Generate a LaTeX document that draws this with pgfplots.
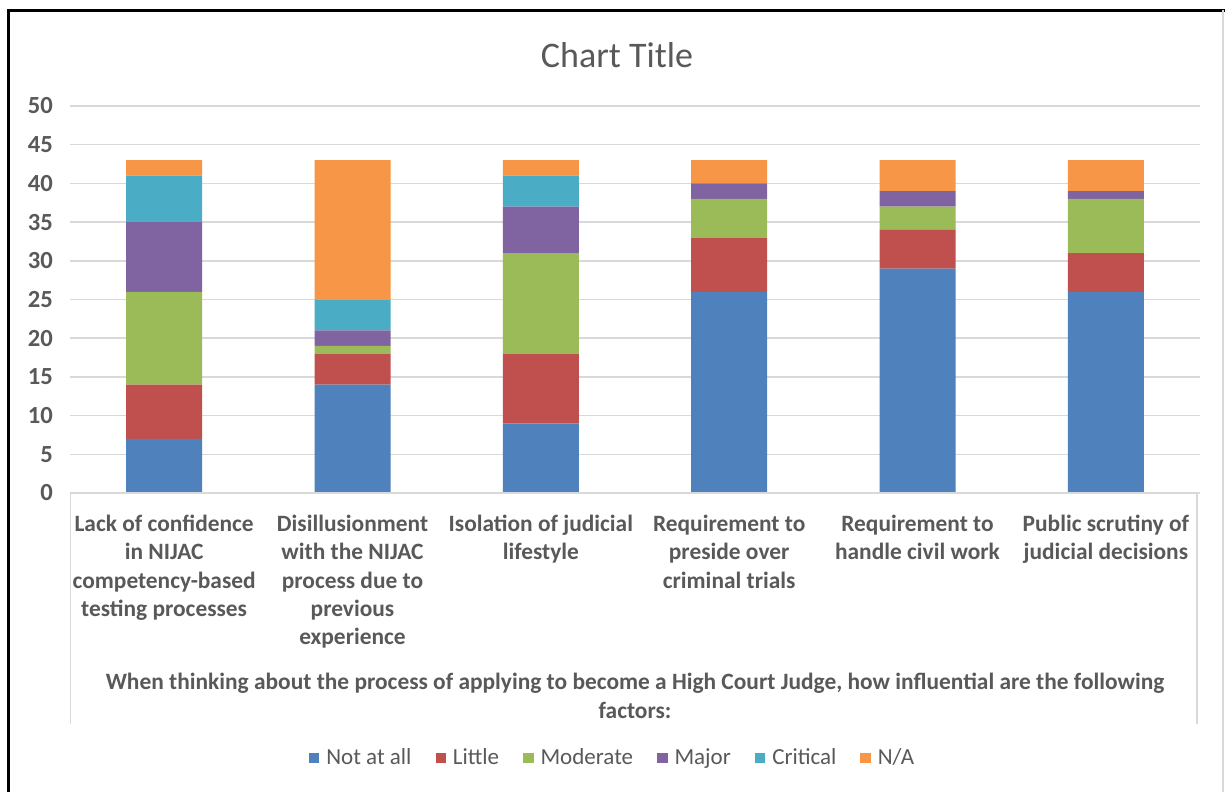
\documentclass[border=0pt]{standalone}
\usepackage{fontspec}
\setmainfont{Carlito}
\usepackage{pgfplots}
\pgfplotsset{compat=1.18}
\definecolor{c1}{HTML}{4F81BD}
\definecolor{c2}{HTML}{C0504D}
\definecolor{c3}{HTML}{9BBB59}
\definecolor{c4}{HTML}{8064A2}
\definecolor{c5}{HTML}{4BACC6}
\definecolor{c6}{HTML}{F79646}
\definecolor{txt}{HTML}{595959}
\definecolor{gridc}{HTML}{D9D9D9}
\begin{document}
\begin{tikzpicture}
\useasboundingbox (0,0) rectangle (612.5pt,-396pt);
\fill[white] (0,0) rectangle (612.5pt,-396pt);
\draw[black, line width=1.5pt] (4pt,-396pt) -- (4pt,-5.25pt) -- (612.5pt,-5.25pt);
\draw[gridc, line width=0.75pt] (611.5pt,-5.25pt) -- (611.5pt,-396pt);
\node[txt, font=\fontsize{18}{22}\selectfont] at (308.5pt,-27.5pt) {Chart Title};
\begin{axis}[
  at={(35pt,-246.5pt)}, anchor=south west,
  width=565pt, height=193.5pt, scale only axis,
  ybar stacked, bar width=38pt,
  xmin=-0.5, xmax=5.5, ymin=0, ymax=50,
  xtick={0,...,5},
  xticklabels={
    {Lack of confidence\\in NIJAC\\competency-based\\testing processes},
    {Disillusionment\\with the NIJAC\\process due to\\previous\\experience},
    {Isolation of judicial\\lifestyle},
    {Requirement to\\preside over\\criminal trials},
    {Requirement to\\handle civil work},
    {Public scrutiny of\\judicial decisions}},
  ytick={0,5,...,50},
  ymajorgrids, grid style={gridc, line width=0.75pt},
  axis line style={draw=none},
  major tick length=0pt,
  tick label style={txt, font=\fontsize{11.7}{14.15}\selectfont\bfseries},
  xticklabel style={align=center, anchor=north, yshift=-7.5pt},
  yticklabel style={anchor=east, xshift=-5pt, font=\fontsize{12.3}{14.15}\selectfont\bfseries},
  /pgf/number format/assume math mode=true,
  legend style={at={(0.481,-0.685)}, anchor=center, draw=none, fill=none,
    legend columns=6, font=\fontsize{11.5}{13}\selectfont, text=txt,
    /tikz/every odd column/.append style={column sep=1.5pt},
    /tikz/every even column/.append style={column sep=10pt}},
  legend image code/.code={\fill[#1] (0pt,-2.6pt) rectangle (5.2pt,2.6pt);},
]
\addplot[fill=c1, draw=none] coordinates {(0,7) (1,14) (2,9) (3,26) (4,29) (5,26)};
\addplot[fill=c2, draw=none] coordinates {(0,7) (1,4) (2,9) (3,7) (4,5) (5,5)};
\addplot[fill=c3, draw=none] coordinates {(0,12) (1,1) (2,13) (3,5) (4,3) (5,7)};
\addplot[fill=c4, draw=none] coordinates {(0,9) (1,2) (2,6) (3,2) (4,2) (5,1)};
\addplot[fill=c5, draw=none] coordinates {(0,6) (1,4) (2,4) (3,0) (4,0) (5,0)};
\addplot[fill=c6, draw=none] coordinates {(0,2) (1,18) (2,2) (3,3) (4,4) (5,4)};
\legend{Not at all, Little, Moderate, Major, Critical, N/A}
\end{axis}
\draw[gridc, line width=0.75pt] (35pt,-246.5pt) -- (600pt,-246.5pt);
\draw[gridc, line width=0.75pt] (35.3pt,-246.5pt) -- (35.3pt,-362pt);
\draw[gridc, line width=0.75pt] (598.5pt,-246.5pt) -- (598.5pt,-362pt);
\node[txt, font=\fontsize{11.7}{14.15}\selectfont\bfseries, align=center] at (317.5pt,-348pt) {When thinking about the process of applying to become a High Court Judge, how influential are the following\\factors:};
\end{tikzpicture}
\end{document}
